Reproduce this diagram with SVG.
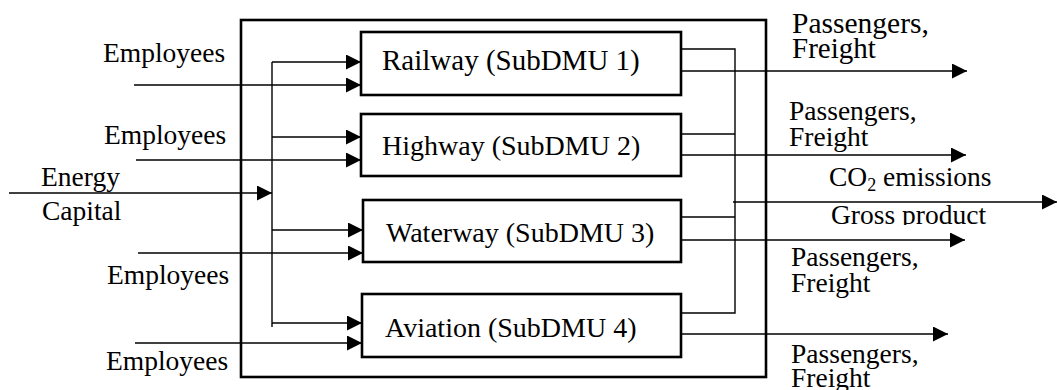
<svg xmlns="http://www.w3.org/2000/svg" width="1057" height="390" viewBox="0 0 1057 390">
<style>
  .t { font-family: 'Liberation Serif', 'Times New Roman', Times, serif; fill: #000; }
  .lbl { font-size: 27.5px; }
  .box { font-size: 28px; }
  .node { fill: #fff; stroke: #000; stroke-width: 2.6; }
  .outer { fill: none; stroke: #000; stroke-width: 2.6; }
  .c { fill: none; stroke: #000; stroke-width: 1.4; }
  .ca { fill: none; stroke: #000; stroke-width: 1.4; marker-end: url(#ah); }
</style>
<defs>
  <marker id="ah" markerUnits="userSpaceOnUse" markerWidth="15" markerHeight="15" refX="15" refY="7.5" orient="auto" viewBox="0 0 15 15">
    <path d="M0,0 L15,7.5 L0,15 z" fill="#000"/>
  </marker>
  <clipPath id="gclip"><rect x="800" y="195" width="240" height="30"/></clipPath>
</defs>

<rect id="outer" class="outer" x="241" y="20" width="525" height="357"/>

<g id="connectors">
  <path class="c" d="M272,62 V327"/>
  <path class="ca" d="M272,62 H361"/>
  <path class="ca" d="M272,137 H361"/>
  <path class="ca" d="M272,230 H363"/>
  <path class="ca" d="M272,323 H362"/>
  <path class="ca" d="M9,193 H272"/>
  <path class="ca" d="M134,85 H361"/>
  <path class="ca" d="M136,160 H361"/>
  <path class="ca" d="M138,253 H363"/>
  <path class="ca" d="M135,343 H362"/>
  <path class="c" d="M681,49 H735 V313 H681"/>
  <path class="c" d="M681,134 H735"/>
  <path class="c" d="M681,217 H735"/>
  <path class="ca" d="M733,202 H1057"/>
  <path class="ca" d="M681,71 H967"/>
  <path class="ca" d="M681,155 H966"/>
  <path class="ca" d="M678,240 H965"/>
  <path class="ca" d="M681,334 H948"/>
</g>

<g id="railway">
  <rect class="node" x="361" y="32" width="320" height="63"/>
  <text class="t box" x="382" y="70" style="font-size:29px">Railway (SubDMU 1)</text>
</g>
<g id="highway">
  <rect class="node" x="361" y="114" width="320" height="62"/>
  <text class="t box" x="382" y="155">Highway (SubDMU 2)</text>
</g>
<g id="waterway">
  <rect class="node" x="363" y="200" width="318" height="62"/>
  <text class="t box" x="386" y="242">Waterway (SubDMU 3)</text>
</g>
<g id="aviation">
  <rect class="node" x="362" y="294" width="319" height="63"/>
  <text class="t box" x="385" y="337">Aviation (SubDMU 4)</text>
</g>

<g id="labels">
  <text class="t lbl" x="103" y="62">Employees</text>
  <text class="t lbl" x="104" y="144">Employees</text>
  <text class="t lbl" x="107" y="284">Employees</text>
  <text class="t lbl" x="106" y="370">Employees</text>
  <text class="t lbl" x="41" y="186">Energy</text>
  <text class="t lbl" x="42" y="220">Capital</text>

  <text class="t lbl" x="792" y="33" style="font-size:29.5px">Passengers,</text>
  <text class="t lbl" x="792" y="58" style="font-size:29px">Freight</text>
  <text class="t lbl" x="789" y="120">Passengers,</text>
  <text class="t lbl" x="789" y="146">Freight</text>
  <text class="t lbl" x="791" y="266">Passengers,</text>
  <text class="t lbl" x="791" y="292">Freight</text>
  <text class="t lbl" x="791" y="363">Passengers,</text>
  <text class="t lbl" x="791" y="387">Freight</text>

  <text class="t lbl" x="829" y="186">CO<tspan font-size="18" dy="5">2</tspan><tspan dy="-5"> emissions</tspan></text>
  <text class="t lbl" x="831" y="224" clip-path="url(#gclip)">Gross product</text>
</g>
</svg>
